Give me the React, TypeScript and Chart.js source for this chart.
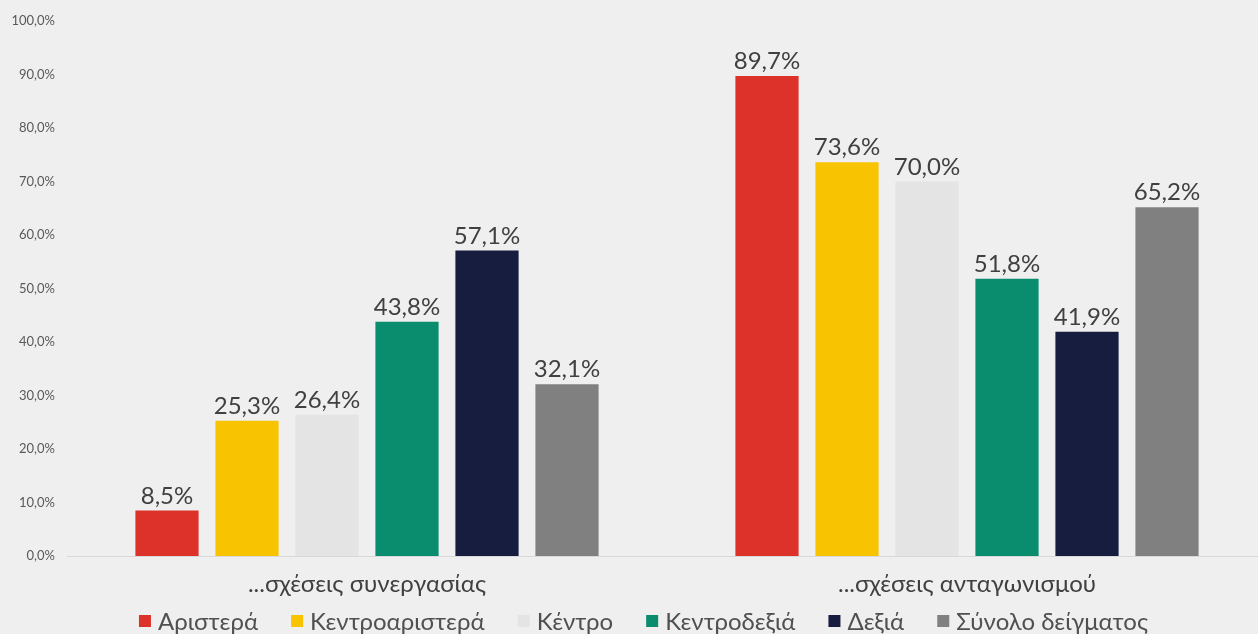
import React, { useEffect, useRef } from "react";
import { Chart, registerables } from "chart.js";

Chart.register(...registerables);

const categories = ["...σχέσεις συνεργασίας", "...σχέσεις ανταγωνισμού"];
const seriesNames = ["Αριστερά", "Κεντροαριστερά", "Κέντρο", "Κεντροδεξιά", "Δεξιά", "Σύνολο δείγματος"];
const aristera = [8.5, 89.7];
const kentroaristera = [25.3, 73.6];
const kentro = [26.4, 70.0];
const kentrodexia = [43.8, 51.8];
const dexia = [57.1, 41.9];
const synolo = [32.1, 65.2];
const seriesColors = ["#dc3229", "#f8c300", "#e4e4e4", "#0a8c6e", "#161d3e", "#808080"];
const yTicks = [0, 10, 20, 30, 40, 50, 60, 70, 80, 90, 100];

const fmt = (v: number) => v.toFixed(1).replace(".", ",") + "%";

const valueLabels = {
  id: "valueLabels",
  afterDatasetsDraw(chart: any) {
    const ctx = chart.ctx;
    ctx.save();
    ctx.font = "24px Lato";
    ctx.fillStyle = "#404040";
    ctx.textAlign = "center";
    ctx.textBaseline = "alphabetic";
    chart.data.datasets.forEach((ds: any, i: number) => {
      const meta = chart.getDatasetMeta(i);
      meta.data.forEach((bar: any, j: number) => {
        ctx.fillText(fmt(ds.data[j]), bar.x, bar.y - 7);
      });
    });
    ctx.restore();
  },
};

const customLegend = {
  id: "customLegend",
  afterDraw(chart: any) {
    const ctx = chart.ctx;
    ctx.save();
    ctx.font = "24px Lato";
    const box = 12;
    const gapText = 7;
    const gapItem = 33;
    const widths = chart.data.datasets.map((ds: any) => box + gapText + ctx.measureText(ds.label).width);
    const total = widths.reduce((a: number, b: number) => a + b, 0) + gapItem * (widths.length - 1);
    let x = 643.5 - total / 2;
    const cy = 621;
    ctx.textBaseline = "middle";
    ctx.textAlign = "left";
    chart.data.datasets.forEach((ds: any, i: number) => {
      ctx.fillStyle = ds.backgroundColor;
      ctx.fillRect(x, cy - 6, box, box);
      ctx.fillStyle = "#505050";
      ctx.fillText(ds.label, x + box + gapText, cy + 1);
      x += widths[i] + gapItem;
    });
    ctx.restore();
  },
};

export default function App() {
  const ref = useRef<HTMLCanvasElement>(null);
  useEffect(() => {
    document.body.style.margin = "0";
    document.body.style.overflow = "hidden";
    document.body.style.background = "#efefef";
    const data = [aristera, kentroaristera, kentro, kentrodexia, dexia, synolo];
    const chart = new Chart(ref.current!, {
      type: "bar",
      data: {
        labels: categories,
        datasets: seriesNames.map((n, i) => ({
          label: n,
          data: data[i],
          backgroundColor: seriesColors[i],
          categoryPercentage: 0.8,
          barPercentage: 0.79,
        })),
      },
      options: {
        animation: false,
        responsive: false,
        maintainAspectRatio: false,
        layout: { padding: { top: 21, left: 0, right: 0, bottom: 34 } },
        plugins: {
          legend: { display: false },
          tooltip: { enabled: false },
        },
        scales: {
          x: {
            grid: { display: false, drawTicks: false },
            border: { display: true, color: "#d9d9d9" },
            ticks: {
              font: { family: "Lato", size: 24 },
              color: "#404040",
              padding: 14,
            },
            afterFit: (s: any) => {
              s.height = 44;
            },
          },
          y: {
            min: 0,
            max: 100,
            afterBuildTicks: (s: any) => {
              s.ticks = yTicks.map((v) => ({ value: v }));
            },
            grid: { display: false, drawTicks: false },
            border: { display: false },
            ticks: {
              font: { family: "Lato", size: 13 },
              color: "#595959",
              padding: 12,
              callback: (v: any) => fmt(Number(v)),
            },
            afterFit: (s: any) => {
              s.width = 67;
            },
          },
        },
      },
      plugins: [valueLabels, customLegend],
    });
    return () => chart.destroy();
  }, []);
  return (
    <div style={{ width: 1267, height: 634, background: "#efefef" }}>
      <canvas ref={ref} width={1267} height={634} />
    </div>
  );
}
